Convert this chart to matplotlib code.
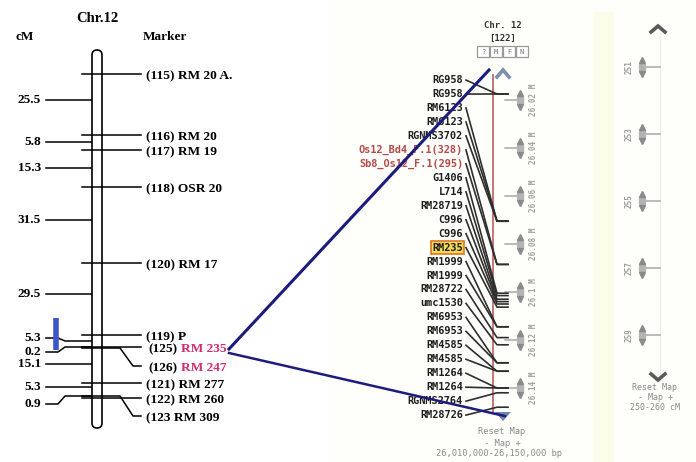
import matplotlib
matplotlib.use("Agg")
import matplotlib.pyplot as plt
import numpy as np
from matplotlib.patches import FancyBboxPatch, Rectangle, Polygon
from matplotlib.transforms import offset_copy

# ---- left: linkage map of chromosome 12 ----
cm_values = ['25.5', '5.8', '15.3', '31.5', '29.5', '5.3', '0.2', '15.1', '5.3', '0.9']
cm_rows = [100, 142, 168, 220, 294, 338, 352, 364, 387, 404]      # label row (px)
cm_join = [100, 142, 168, 220, 294, 341, 347, 364, 387, 396]      # row where tick meets chromosome

map_ids = ['(115)', '(116)', '(117)', '(118)', '(120)', '(119)', '(125)', '(126)', '(121)', '(122)', '(123']
map_names = ['RM 20 A.', 'RM 20', 'RM 19', 'OSR 20', 'RM 17', 'P', 'RM 235', 'RM 247', 'RM 277', 'RM 260', 'RM 309']
map_rows = [74, 135, 150, 187, 263, 335, 347, 366, 383, 398, 416]
map_join = [74, 135, 150, 187, 263, 335, 347, 348, 383, 398, 396]
map_hit = ['RM 235', 'RM 247']

# ---- right: physical map window 26.01-26.15 Mb ----
browser_markers = ['RG958', 'RG958', 'RM6123', 'RM6123', 'RGNMS3702', 'Os12_Bd4_F.1(328)',
                   'Sb8_Os12_F.1(295)', 'G1406', 'L714', 'RM28719', 'C996', 'C996', 'RM235',
                   'RM1999', 'RM1999', 'RM28722', 'umc1530', 'RM6953', 'RM6953', 'RM4585',
                   'RM4585', 'RM1264', 'RM1264', 'RGNMS2764', 'RM28726']
marker_mb = [26.0175, 26.0175, 26.0705, 26.0705, 26.0705, 26.0885, 26.0885, 26.1005, 26.1015,
             26.1030, 26.1040, 26.1050, 26.1063, 26.1145, 26.1145, 26.1190, 26.1220, 26.1295,
             26.1295, 26.1330, 26.1330, 26.1400, 26.1400, 26.1420, 26.1480]
synteny = ['Os12_Bd4_F.1(328)', 'Sb8_Os12_F.1(295)']
ruler_mb = [26.02, 26.04, 26.06, 26.08, 26.10, 26.12, 26.14]
ruler_txt = ['26.02', '26.04', '26.06', '26.08', '26.1', '26.12', '26.14']
view_mb = (26.01, 26.15)
cm_ruler = [251, 253, 255, 257, 259]

serif = 'Liberation Serif'
mono = 'DejaVu Sans Mono'

fig = plt.figure(figsize=(6.96, 4.62), dpi=100)
ax = fig.add_axes([0, 0, 1, 1])
ax.set_xlim(0, 696)
ax.set_ylim(462, 0)
ax.axis('off')

# browser axes: x in px, y in Mb
axb = fig.add_axes([0, 0, 1, 1])
axb.set_xlim(0, 696)
axb.set_ylim(26.02 + 362 / 2400, 26.02 - 100 / 2400)
axb.axis('off')
axb.patch.set_alpha(0)

# cM overview axes: x in px, y in cM
axc = fig.add_axes([0, 0, 1, 1])
axc.set_xlim(0, 696)
axc.set_ylim(251 + 395 / 33.5, 249)
axc.axis('off')
axc.patch.set_alpha(0)

# screenshot background
ax.add_patch(Rectangle((332, 0), 364, 462, fc='#fefefa', ec='none', zorder=0))
ax.add_patch(Rectangle((593, 12), 21, 450, fc='#fcfcea', ec='none', zorder=0))
ax.plot([660, 660], [33, 380], color='#eeeeee', lw=1, zorder=0)

# ---------- left map ----------
ax.text(97, 19, 'Chr.12', ha='center', va='center', fontsize=10.5, fontweight='bold', family=serif)
ax.text(15, 37, 'cM', ha='left', va='center', fontsize=9.5, fontweight='bold', family=serif)
ax.text(143, 37, 'Marker', ha='left', va='center', fontsize=9.5, fontweight='bold', family=serif)
ax.add_patch(FancyBboxPatch((92, 50), 10, 378, boxstyle='round,pad=0,rounding_size=5',
                            fc='white', ec='black', lw=1.2, zorder=3))

for v, r, j in zip(cm_values, cm_rows, cm_join):
    ax.plot([46, 58, 65, 92], [r, r, j, j], color='black', lw=1.1, zorder=2)
    ax.text(41, r, v, ha='right', va='center', fontsize=9.5, fontweight='bold', family=serif)

ax.plot([56, 56], [318, 350], color='#3d55c8', lw=4, solid_capstyle='butt', zorder=4)

for mid, name, r, j in zip(map_ids, map_names, map_rows, map_join):
    ax.plot([82, 120, 133, 141], [j, j, r, r], color='black', lw=1.1, zorder=4)
    if name in map_hit:
        ax.text(148, r + 2, mid, ha='left', va='center', fontsize=9.6, fontweight='bold', family=serif)
        ax.text(181, r + 2, name, ha='left', va='center', fontsize=9.6, fontweight='bold',
                family=serif, color='#d42a6e')
    else:
        ax.text(146, r + 2, mid + ' ' + name, ha='left', va='center', fontsize=9.6,
                fontweight='bold', family=serif)

# ---------- browser (Mb) ----------
chr_x = 493
axb.plot([chr_x, chr_x], [view_mb[0] - 0.0003, view_mb[1] + 0.0003], color='#c46a6a', lw=1.3, zorder=2)

slots = np.linspace(26.0117, 26.1513, len(browser_markers))
for name, s, mb in zip(browser_markers, slots, marker_mb):
    axb.plot([466, 497, 508], [s, mb, mb], color='#2e2e2e', lw=1.2, zorder=3)
    col = '#b54a4a' if name in synteny else '#1e1e1e'
    kw = {}
    if name == 'RM235':
        kw['bbox'] = dict(boxstyle='square,pad=0.12', fc='#f4d95a', ec='#e0761e', lw=1.2)
    axb.text(463, s, name, ha='right', va='center', fontsize=7.4, fontweight='bold',
             family=mono, color=col, zorder=4, **kw)

up = offset_copy(axb.transData, fig=fig, y=7, units='dots')
dn = offset_copy(axb.transData, fig=fig, y=-7, units='dots')
for mb, t in zip(ruler_mb, ruler_txt):
    axb.plot([505, 518], [mb, mb], color='#a8a8a8', lw=1.1, zorder=2)
    axb.plot(520, mb, marker='s', ms=4.5, color='#b4b4b4', zorder=3)
    axb.plot(520, mb, marker='^', ms=5, color='#8a8a8a', transform=up, zorder=3)
    axb.plot(520, mb, marker='v', ms=5, color='#8a8a8a', transform=dn, zorder=3)
    axb.text(533, mb, t + ' M', rotation=90, ha='center', va='center', fontsize=5.5,
             family=mono, fontweight='bold', color='#a0a0a0')

# top controls
ax.text(503, 25, 'Chr. 12', ha='center', va='center', fontsize=6.5, fontweight='bold',
        family=mono, color='#333333')
ax.text(503, 38, '[122]', ha='center', va='center', fontsize=6.5, fontweight='bold',
        family=mono, color='#333333')
for i, b in enumerate(['?', 'M', 'F', 'N']):
    ax.add_patch(Rectangle((477 + 13 * i, 46), 12, 11, fc='white', ec='#9a9a9a', lw=0.9))
    ax.text(483 + 13 * i, 51.5, b, ha='center', va='center', fontsize=5, family=mono, color='#777777')
ax.plot([497, 503, 509], [77, 70, 77], color='#7d8db0', lw=2.6, solid_joinstyle='miter')
ax.add_patch(Polygon([[495, 412], [511, 412], [503, 421]], closed=True, fc='#6d85aa', ec='none', zorder=5))
ax.text(502, 432, 'Reset Map', ha='center', va='center', fontsize=6.3, family=mono, color='#8a8a8a')
ax.text(502, 443, '- Map +', ha='center', va='center', fontsize=6.3, family=mono, color='#8a8a8a')
ax.text(499, 454, '26,010,000-26,150,000 bp', ha='center', va='center', fontsize=6.3,
        family=mono, color='#8a8a8a')

# ---------- cM overview ----------
upc = offset_copy(axc.transData, fig=fig, y=7, units='dots')
dnc = offset_copy(axc.transData, fig=fig, y=-7, units='dots')
for c in cm_ruler:
    axc.plot([645, 660], [c, c], color='#a8a8a8', lw=1.1)
    axc.plot(642, c, marker='s', ms=4.5, color='#b4b4b4')
    axc.plot(642, c, marker='^', ms=5, color='#8a8a8a', transform=upc)
    axc.plot(642, c, marker='v', ms=5, color='#8a8a8a', transform=dnc)
    axc.text(629, c, str(c), rotation=90, ha='center', va='center', fontsize=5.5,
             family=mono, fontweight='bold', color='#9a9a9a')
ax.plot([651, 658, 665], [32, 26, 32], color='#5a5a5a', lw=2.6, solid_joinstyle='miter')
ax.plot([651, 658, 665], [374, 380, 374], color='#5a5a5a', lw=2.6, solid_joinstyle='miter')
ax.text(655, 388, 'Reset Map', ha='center', va='center', fontsize=6, family=mono, color='#8a8a8a')
ax.text(655, 398, '- Map +', ha='center', va='center', fontsize=6, family=mono, color='#8a8a8a')
ax.text(655, 408, '250-260 cM', ha='center', va='center', fontsize=6, family=mono, color='#8a8a8a')

# ---------- zoom connectors (drawn on top) ----------
top_px = ax.transData.inverted().transform(axb.transData.transform((489, view_mb[0] - 0.0025)))
bot_px = ax.transData.inverted().transform(axb.transData.transform((505, view_mb[1] + 0.0017)))
r = map_rows[map_names.index('RM 235')]
axb.plot([229, top_px[0]], [r + 2, top_px[1]], color='#1c1c7c', lw=2.2, transform=ax.transData, zorder=6)
axb.plot([229, bot_px[0]], [r + 6, bot_px[1]], color='#1c1c7c', lw=1.8, transform=ax.transData, zorder=6)

fig.savefig('out.png', dpi=100)
